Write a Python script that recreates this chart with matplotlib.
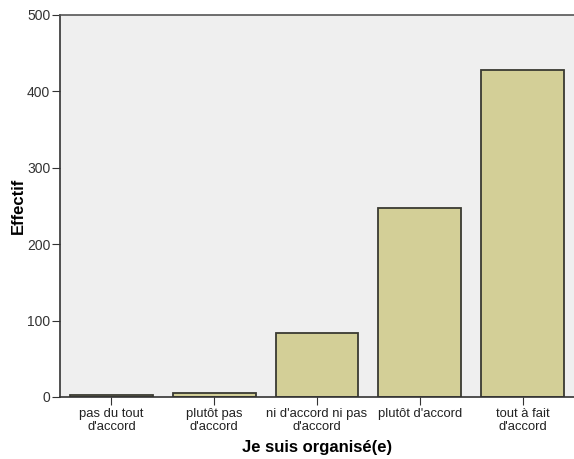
import matplotlib
matplotlib.use("Agg")
import matplotlib.pyplot as plt

categories = ["pas du tout\nd'accord", "plutôt pas\nd'accord", "ni d'accord ni pas\nd'accord",
              "plutôt d'accord", "tout à fait\nd'accord"]
counts = [2, 5, 84, 247, 428]
yticks = [0, 100, 200, 300, 400, 500]

plt.rcParams['font.family'] = ['Liberation Sans', 'DejaVu Sans']

fig = plt.figure(figsize=(5.74, 4.59), dpi=100)
ax = fig.add_axes([60/574, 62/459, 1 - 60/574, (397-15)/459])
ax.set_facecolor('#EFEFEF')
x = list(range(len(categories)))
ax.bar(x, counts, width=0.806, color='#D3CF97', edgecolor='#3a3a32', linewidth=1.3)
ax.set_xlim(-0.5, 4.5)
ax.set_ylim(0, 500)
ax.set_yticks(yticks)
ax.set_xticks(x)
ax.set_xticklabels(categories, fontsize=9.4, color='#222222', linespacing=1.05)
ax.tick_params(axis='y', labelsize=10, labelcolor='#333333', direction='out', length=6, color='#333333', pad=1)
ax.tick_params(axis='x', direction='out', length=6, color='#333333', pad=2)
ax.set_ylabel('Effectif', fontsize=12, fontweight='bold', labelpad=1)
ax.set_xlabel('Je suis organisé(e)', fontsize=12, fontweight='bold', labelpad=5)
for s in ['left', 'bottom']:
    ax.spines[s].set_color('#333333')
    ax.spines[s].set_linewidth(1.2)
ax.spines['top'].set_color('#555555')
ax.spines['top'].set_linewidth(1.2)
ax.spines['right'].set_visible(False)
fig.savefig('out.png', dpi=100, facecolor='white')
